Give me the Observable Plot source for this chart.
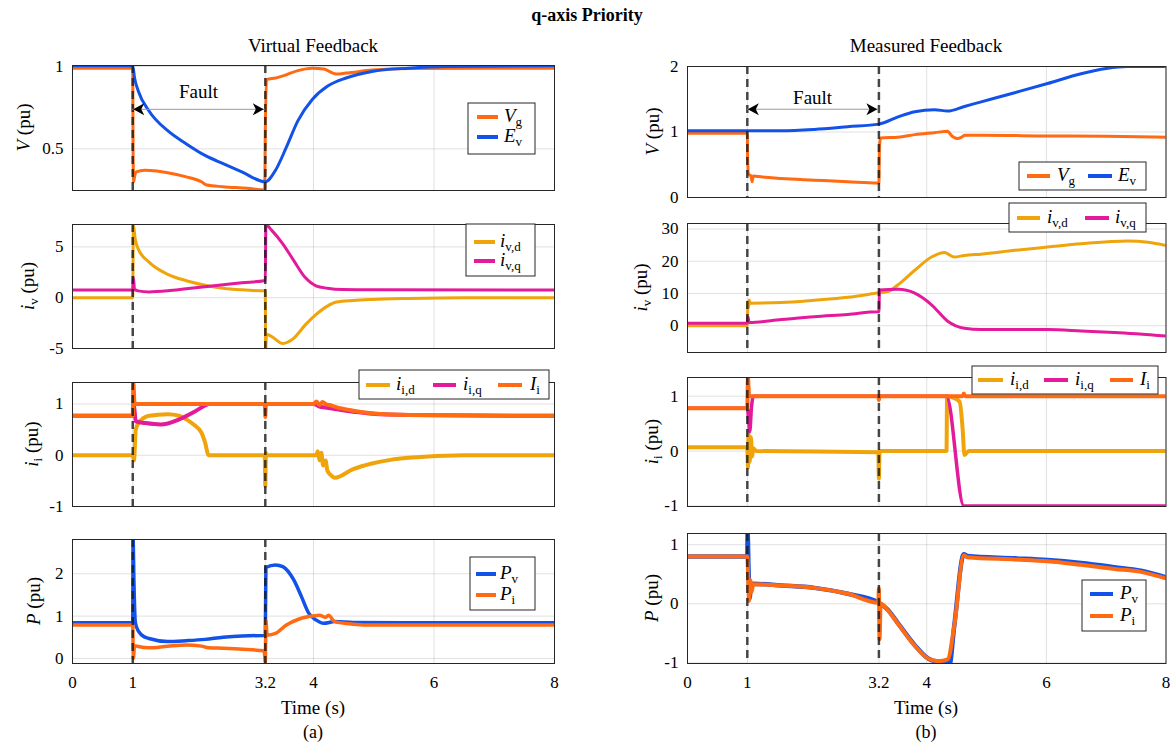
<!DOCTYPE html>
<html><head><meta charset="utf-8">
<script src="https://cdn.jsdelivr.net/npm/d3@7"></script>
<script src="https://cdn.jsdelivr.net/npm/@observablehq/plot@0.6"></script>
<style>
body{margin:0;background:#fff;}
#fig{position:relative;width:1173px;height:748px;overflow:hidden;background:#fff;font-family:"Liberation Serif","DejaVu Serif",serif;}
#fig svg, #fig text, #fig tspan{font-family:"Liberation Serif","DejaVu Serif",serif !important;}
</style></head>
<body><div id="fig"></div>
<script>
// ---------- data (time s, value pu) ----------
const xTicks = [0, 1, 3.2, 4, 6, 8];
const faultTimes = [1, 3.2];
const yTicksL1 = [0.5, 1], yTicksL2 = [-5, 0, 5], yTicksL3 = [-1, 0, 1], yTicksL4 = [0, 1, 2];
const yTicksR1 = [0, 1, 2], yTicksR2 = [0, 10, 20, 30], yTicksR3 = [-1, 0, 1], yTicksR4 = [-1, 0, 1];

// Virtual feedback
const lVg = [[0,0.99],[1.0,0.99],[1.005,0.5],[1.015,0.30],[1.03,0.33],[1.06,0.36],[1.2,0.37],[1.4,0.365],[1.58,0.355],[1.89,0.33],[2.14,0.30],[2.23,0.28],[2.5,0.27],[2.9,0.26],[3.19,0.25],[3.2,0.6],[3.22,0.92],[3.37,0.93],[3.55,0.95],[3.74,0.975],[3.98,0.99],[4.17,0.985],[4.29,0.965],[4.38,0.955],[4.54,0.96],[4.97,0.978],[5.58,0.988],[8,0.99]];
const lEv = [[0,1.004],[1.0,1.004],[1.03,0.93],[1.09,0.853],[1.27,0.73],[1.58,0.61],[1.89,0.53],[2.2,0.46],[2.5,0.41],[2.81,0.36],[3.2,0.30],[3.37,0.37],[3.55,0.51],[3.74,0.67],[3.98,0.80],[4.23,0.88],[4.54,0.93],[4.97,0.97],[5.58,0.99],[6.2,1.0],[8,1.004]];
const lIvd = [[0,0],[1.0,0],[1.01,7.2],[1.04,5.8],[1.09,4.8],[1.27,3.5],[1.58,2.3],[1.89,1.67],[2.2,1.23],[2.5,0.93],[2.81,0.77],[3.18,0.67],[3.2,0.67],[3.205,-5.2],[3.22,-3.6],[3.3,-3.8],[3.49,-4.5],[3.67,-4.0],[3.86,-2.7],[4.04,-1.67],[4.23,-0.83],[4.38,-0.43],[4.66,-0.27],[4.97,-0.17],[5.58,-0.07],[6.5,0],[8,0]];
const lIvq = [[0,0.75],[1.0,0.75],[1.01,2.0],[1.03,0.8],[1.09,0.67],[1.27,0.57],[1.58,0.67],[1.89,0.87],[2.2,1.07],[2.5,1.27],[2.81,1.47],[3.18,1.67],[3.2,1.7],[3.21,7.2],[3.3,6.67],[3.49,5.3],[3.67,3.67],[3.86,2.0],[4.04,1.17],[4.23,0.93],[4.48,0.8],[5.0,0.77],[8,0.75]];
const lIid = [[0,0],[1.0,0],[1.02,-0.1],[1.05,0.5],[1.09,0.62],[1.27,0.77],[1.58,0.8],[1.77,0.77],[1.89,0.7],[2.01,0.6],[2.14,0.44],[2.2,0.25],[2.26,0],[3.19,0],[3.2,-0.6],[3.21,0.05],[3.22,0],[4.05,0],[4.07,0.08],[4.1,-0.1],[4.13,0.05],[4.16,-0.2],[4.2,-0.1],[4.23,-0.3],[4.3,-0.4],[4.35,-0.44],[4.66,-0.27],[4.97,-0.16],[5.28,-0.09],[5.58,-0.05],[6.5,0],[8,0]];
const lIiq = [[0,0.77],[1.0,0.77],[1.02,0.95],[1.05,0.66],[1.2,0.63],[1.46,0.6],[1.77,0.7],[2.01,0.84],[2.2,0.97],[2.26,1.0],[4.0,1.0],[4.1,0.95],[4.2,0.93],[4.35,0.9],[4.66,0.85],[4.97,0.81],[5.58,0.785],[8,0.77]];
const lIi = [[0,0.77],[1.0,0.77],[1.01,1.42],[1.03,1.0],[3.19,1.0],[3.2,0.75],[3.21,1.0],[4.0,1.0],[4.05,1.05],[4.1,0.98],[4.15,1.04],[4.2,1.0],[4.3,0.97],[4.35,0.95],[4.66,0.87],[4.97,0.82],[5.58,0.785],[8,0.77]];
const lPv = [[0,0.84],[1.0,0.84],[1.005,2.85],[1.02,1.8],[1.04,0.9],[1.06,0.75],[1.15,0.55],[1.27,0.47],[1.58,0.4],[1.89,0.42],[2.2,0.45],[2.5,0.5],[2.81,0.53],[3.18,0.54],[3.2,0.54],[3.21,2.15],[3.37,2.21],[3.49,2.17],[3.67,1.86],[3.8,1.46],[3.92,1.07],[4.04,0.91],[4.17,0.83],[4.35,0.87],[4.66,0.85],[5.5,0.84],[8,0.84]];
const lPi = [[0,0.79],[1.0,0.79],[1.01,0.0],[1.03,0.3],[1.09,0.28],[1.27,0.25],[1.58,0.29],[1.89,0.32],[2.14,0.29],[2.26,0.25],[2.5,0.24],[2.9,0.21],[3.18,0.18],[3.2,-0.1],[3.21,0.9],[3.23,0.55],[3.37,0.59],[3.55,0.79],[3.74,0.92],[3.98,1.0],[4.1,1.02],[4.2,0.97],[4.25,1.02],[4.35,0.87],[4.66,0.81],[5,0.79],[8,0.79]];

// Measured feedback
const rVg = [[0,0.98],[1.0,0.98],[1.005,0.6],[1.02,0.36],[1.06,0.33],[1.08,0.24],[1.1,0.33],[1.18,0.32],[1.57,0.29],[2.12,0.265],[2.68,0.24],[3.18,0.22],[3.2,0.22],[3.21,0.8],[3.23,0.91],[3.52,0.92],[3.8,0.96],[4.13,0.99],[4.35,1.01],[4.4,0.96],[4.45,0.92],[4.52,0.9],[4.6,0.93],[4.63,0.95],[4.91,0.95],[6.02,0.94],[7,0.935],[8,0.92]];
const rEv = [[0,1.02],[1.0,1.02],[1.57,1.02],[2.12,1.04],[2.68,1.08],[3.2,1.12],[3.52,1.23],[3.8,1.31],[4.13,1.34],[4.35,1.32],[4.63,1.39],[4.91,1.46],[5.47,1.6],[6.02,1.74],[6.58,1.89],[7.0,1.97],[7.36,2.0],[8,2.0]];
const rIvd = [[0,0],[1.0,0],[1.01,7.5],[1.02,5.5],[1.03,8],[1.05,7.0],[1.57,7.2],[2.12,7.9],[2.68,8.8],[3.2,10.2],[3.35,10.6],[3.52,12.7],[3.8,17.2],[4.08,21.3],[4.3,22.7],[4.35,22.3],[4.46,21.3],[4.63,21.8],[4.91,22.2],[5.47,23.4],[6.02,24.4],[6.58,25.4],[7.36,26.3],[7.7,25.9],[8,24.9]];
const rIvq = [[0,0.8],[1.0,0.8],[1.01,2.8],[1.03,1.0],[1.57,1.9],[2.12,2.8],[2.68,3.5],[3.19,4.3],[3.2,4.3],[3.21,11.1],[3.52,11.3],[3.8,10.1],[4.08,6.5],[4.35,1.4],[4.63,-0.8],[4.91,-1.2],[6.02,-1.2],[6.58,-1.6],[7.14,-2.1],[8,-3.2]];
const rIid = [[0,0.07],[1.0,0.07],[1.01,-0.3],[1.02,0.3],[1.04,-0.2],[1.06,0.25],[1.08,-0.1],[1.1,0.05],[1.15,0],[3.19,-0.02],[3.2,-0.5],[3.21,0],[4.33,0],[4.34,1.0],[4.45,0.97],[4.55,0.9],[4.6,0.4],[4.63,-0.07],[4.7,0],[8,0]];
const rIiq = [[0,0.78],[1.0,0.78],[1.02,0.6],[1.04,0.35],[1.07,0.8],[1.1,1.0],[4.33,1.0],[4.62,-1.0],[8,-1.0]];
const rIi = [[0,0.78],[1.0,0.78],[1.01,1.35],[1.03,1.0],[3.19,1.0],[3.2,0.93],[3.21,1.0],[4.6,1.0],[4.62,1.05],[4.64,1.0],[8,1.0]];
const rPv = [[0,0.8],[1.0,0.8],[1.005,1.2],[1.02,0.6],[1.04,0.1],[1.06,0.33],[1.1,0.34],[1.57,0.31],[2.12,0.27],[2.68,0.17],[3.2,0.02],[3.35,-0.1],[3.52,-0.33],[3.8,-0.7],[4.03,-0.93],[4.19,-0.98],[4.35,-0.99],[4.38,-1.03],[4.46,-0.37],[4.62,0.84],[4.68,0.81],[5.47,0.77],[6.02,0.74],[6.58,0.69],[7.14,0.62],[7.58,0.56],[8,0.45]];
const rPi = [[0,0.8],[1.0,0.8],[1.01,0.6],[1.03,0.05],[1.05,0.4],[1.07,0.2],[1.1,0.33],[1.57,0.31],[2.12,0.27],[2.68,0.17],[3.19,0.02],[3.2,0.26],[3.21,-0.6],[3.23,0.0],[3.35,-0.11],[3.52,-0.34],[3.8,-0.71],[4.03,-0.93],[4.19,-0.97],[4.35,-0.94],[4.46,-0.37],[4.62,0.82],[4.68,0.79],[5.47,0.75],[6.02,0.72],[6.58,0.66],[7.14,0.59],[7.58,0.54],[8,0.43]];

// ---------- styling ----------
const ORANGE = "#FF6A13", BLUE = "#1252E8", GOLD = "#EFA40C", MAGENTA = "#E31A9A";
const FONT = "'Liberation Serif', 'DejaVu Serif', serif";

const panels = [
  {x0:72, x1:554, y0:65, y1:190, dom:[0.247,1.006], yt:yTicksL1, series:[[lVg,ORANGE,3],[lEv,BLUE,3]], fault:{y:0.737, ty:0.844},
   label:["V",""], lx:23,
   legend:{box:[468,103,535,154], items:[{y:117,x1:477,x2:498,tx:504,c:ORANGE,m:"V",s:"g"},{y:137,x1:477,x2:498,tx:504,c:BLUE,m:"E",s:"v"}]}},
  {x0:72, x1:554, y0:224, y1:348, dom:[-5,7.2], yt:yTicksL2, series:[[lIvd,GOLD,3],[lIvq,MAGENTA,3]],
   label:["i","v"], lx:27,
   legend:{box:[466,224,535,276], items:[{y:242,x1:474,x2:495,tx:500,c:GOLD,m:"i",s:"v,d"},{y:261,x1:474,x2:495,tx:500,c:MAGENTA,m:"i",s:"v,q"}]}},
  {x0:72, x1:554, y0:382, y1:506, dom:[-1,1.42], yt:yTicksL3, series:[[lIid,GOLD,4],[lIiq,MAGENTA,4],[lIi,ORANGE,4]],
   label:["i","i"], lx:31,
   legend:{box:[359,370,549,399], items:[{y:385,x1:366,x2:390,tx:396,c:GOLD,m:"i",s:"i,d"},{y:385,x1:433,x2:456,tx:463,c:MAGENTA,m:"i",s:"i,q"},{y:385,x1:498,x2:522,tx:530,c:ORANGE,m:"I",s:"i"}]}},
  {x0:72, x1:554, y0:539, y1:663, dom:[-0.12,2.81], yt:yTicksL4, series:[[lPv,BLUE,3.5],[lPi,ORANGE,3.5]], bottom:true,
   label:["P",""], lx:33,
   legend:{box:[470,557,535,610], items:[{y:574,x1:476,x2:496,tx:500,c:BLUE,m:"P",s:"v"},{y:595,x1:476,x2:496,tx:500,c:ORANGE,m:"P",s:"i"}]}},

  {x0:686.5, x1:1165, y0:66, y1:197, dom:[0,2], yt:yTicksR1, series:[[rVg,ORANGE,3],[rEv,BLUE,3]], fault:{y:1.34, ty:1.52},
   label:["V",""], lx:652,
   legend:{box:[1019,162,1146,190], items:[{y:176,x1:1027,x2:1050,tx:1057,c:ORANGE,m:"V",s:"g"},{y:176,x1:1088,x2:1112,tx:1118,c:BLUE,m:"E",s:"v"}]}},
  {x0:686.5, x1:1165, y0:223, y1:352, dom:[-8.3,31.7], yt:yTicksR2, series:[[rIvd,GOLD,3],[rIvq,MAGENTA,3]],
   label:["i","v"], lx:640,
   legend:{box:[1009,203,1146,232], items:[{y:218,x1:1017,x2:1040,tx:1047,c:GOLD,m:"i",s:"v,d"},{y:218,x1:1085,x2:1109,tx:1115,c:MAGENTA,m:"i",s:"v,q"}]}},
  {x0:686.5, x1:1165, y0:377, y1:506, dom:[-1.01,1.34], yt:yTicksR3, series:[[rIid,GOLD,4],[rIiq,MAGENTA,3.5],[rIi,ORANGE,4]],
   label:["i","i"], lx:651,
   legend:{box:[972,366,1158,394], items:[{y:380,x1:978,x2:1003,tx:1010,c:GOLD,m:"i",s:"i,d"},{y:380,x1:1044,x2:1068,tx:1075,c:MAGENTA,m:"i",s:"i,q"},{y:380,x1:1110,x2:1133,tx:1140,c:ORANGE,m:"I",s:"i"}]}},
  {x0:686.5, x1:1165, y0:533, y1:663, dom:[-1.01,1.19], yt:yTicksR4, series:[[rPv,BLUE,4.5],[rPi,ORANGE,4]], bottom:true,
   label:["P",""], lx:651,
   legend:{box:[1082,580,1146,631], items:[{y:594,x1:1090,x2:1113,tx:1120,c:BLUE,m:"P",s:"v"},{y:616,x1:1090,x2:1113,tx:1120,c:ORANGE,m:"P",s:"i"}]}}
];

const fig = document.getElementById("fig");

function drawPanel(p){
  const mL = 60, mR = 12, mT = 12, mB = p.bottom ? 36 : 12;
  const w = p.x1 - p.x0 + mL + mR, h = p.y1 - p.y0 + mT + mB;
  const marks = [
    Plot.gridX(xTicks, {stroke: "#000", strokeOpacity: 0.12}),
    Plot.gridY(p.yt, {stroke: "#000", strokeOpacity: 0.12}),
    ...p.series.map(([d, c, sw]) => Plot.line(d, {x: d => d[0], y: d => d[1], stroke: c, strokeWidth: sw, curve: "monotone-x", clip: true})),
    Plot.ruleX(faultTimes, {stroke: "#1a1a1a", strokeOpacity: 0.8, strokeWidth: 2.5, strokeDasharray: "8,5"}),
    Plot.frame({stroke: "#262626", strokeWidth: 1}),
    Plot.axisY(p.yt, {tickSize: 0, tickPadding: 9, tickFormat: d => String(d), fontSize: 17})
  ];
  if (p.bottom) marks.push(Plot.axisX(xTicks, {tickSize: 0, tickPadding: 12, tickFormat: d => String(d), fontSize: 17}));
  const svg = Plot.plot({
    width: w, height: h, marginLeft: mL, marginRight: mR, marginTop: mT, marginBottom: mB,
    x: p.bottom ? {domain: [0, 8]} : {domain: [0, 8], axis: null},
    y: {domain: p.dom},
    style: {fontFamily: FONT, fontSize: "17px", background: "transparent", color: "#000", overflow: "visible"},
    marks
  });
  svg.style.position = "absolute";
  svg.style.left = (p.x0 - mL) + "px";
  svg.style.top = (p.y0 - mT) + "px";
  fig.appendChild(svg);

  if (p.fault) {
    const xs = svg.scale("x"), ys = svg.scale("y");
    const g = d3.select(svg).append("g");
    const xa = xs.apply(faultTimes[0]), xb = xs.apply(faultTimes[1]), yy = ys.apply(p.fault.y);
    g.append("line").attr("x1", xa).attr("x2", xb).attr("y1", yy).attr("y2", yy)
      .attr("stroke", "#9a9a9a").attr("stroke-width", 1);
    g.append("path").attr("d", `M${xa+1},${yy} l11,-6 l-3,6 l3,6 z`).attr("fill", "#000");
    g.append("path").attr("d", `M${xb-1},${yy} l-11,-6 l3,6 l-3,6 z`).attr("fill", "#000");
    g.append("text").attr("x", xs.apply((faultTimes[0] + faultTimes[1]) / 2)).attr("y", ys.apply(p.fault.ty))
      .attr("dy", "0.35em").attr("text-anchor", "middle").attr("font-size", 19).text("Fault");
  }
}
panels.forEach(drawPanel);

// ---------- overlay text: titles, labels, legends ----------
const ov = d3.select(fig).append("svg")
  .attr("width", 1173).attr("height", 748)
  .style("position", "absolute").style("left", "0px").style("top", "0px");

function txt(x, y, s, size, opts = {}) {
  return ov.append("text").attr("x", x).attr("y", y).attr("text-anchor", opts.anchor || "middle")
    .attr("font-size", size).attr("font-weight", opts.bold ? "bold" : null).text(s);
}
txt(587, 21, "q-axis Priority", 18, {bold: true});
txt(313, 52, "Virtual Feedback", 19);
txt(926, 52, "Measured Feedback", 19);
txt(313, 714, "Time (s)", 19);
txt(926, 714, "Time (s)", 19);
txt(313, 738, "(a)", 18);
txt(926, 738, "(b)", 18);

panels.forEach(p => {
  const cy = (p.y0 + p.y1) / 2;
  const t = ov.append("text").attr("text-anchor", "middle").attr("font-size", 19)
    .attr("transform", `translate(${p.lx},${cy}) rotate(-90)`).attr("dy", "0.35em");
  t.append("tspan").attr("font-style", "italic").text(p.label[0]);
  if (p.label[1]) {
    t.append("tspan").attr("font-size", 13).attr("dy", 4).text(p.label[1]);
    t.append("tspan").attr("dy", -4).text(" (pu)");
  } else {
    t.append("tspan").text(" (pu)");
  }
  const L = p.legend;
  ov.append("rect").attr("x", L.box[0]).attr("y", L.box[1]).attr("width", L.box[2] - L.box[0]).attr("height", L.box[3] - L.box[1])
    .attr("fill", "#fff").attr("stroke", "#262626").attr("stroke-width", 1);
  L.items.forEach(it => {
    ov.append("line").attr("x1", it.x1).attr("x2", it.x2).attr("y1", it.y).attr("y2", it.y)
      .attr("stroke", it.c).attr("stroke-width", 4);
    const tt = ov.append("text").attr("x", it.tx).attr("y", it.y + 5).attr("font-size", 19);
    tt.append("tspan").attr("font-style", "italic").text(it.m);
    tt.append("tspan").attr("font-size", 13).attr("dy", 4).text(it.s);
  });
});
// make sure every text uses the serif face
d3.select(fig).selectAll("text, tspan").attr("font-family", "Liberation Serif, DejaVu Serif, serif");
</script>
</body></html>
